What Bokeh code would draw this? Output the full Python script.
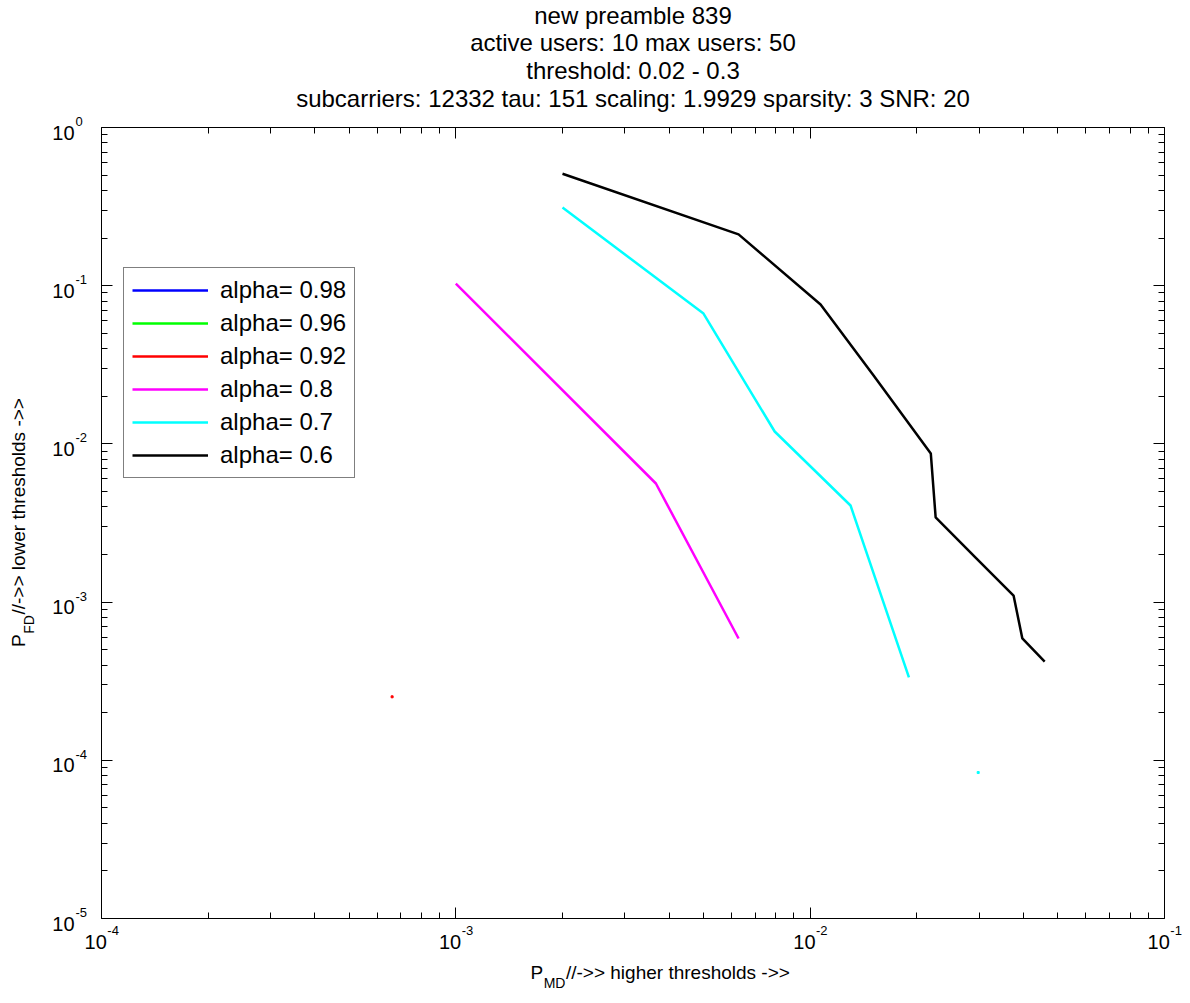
import math
import numpy as np
from bokeh.plotting import figure
from bokeh.models import Range1d, LogAxis, FixedTicker, Label, Legend, LegendItem
from bokeh.embed import file_html
from bokeh.resources import INLINE

# ---------------- data ----------------
title_lines = [
    "new preamble 839",
    "active users: 10 max users: 50",
    "threshold: 0.02 - 0.3",
    "subcarriers: 12332 tau: 151 scaling: 1.9929 sparsity: 3 SNR: 20",
]
series_labels = ["alpha= 0.98", "alpha= 0.96", "alpha= 0.92", "alpha= 0.8", "alpha= 0.7", "alpha= 0.6"]
series_colors = ["#0000ff", "#00ff00", "#ff0000", "#ff00ff", "#00ffff", "#000000"]

# P_MD (x) and P_FD (y) for each alpha (nan = nothing visible)
a098_x = [np.nan]
a098_y = [np.nan]
a096_x = [np.nan]
a096_y = [np.nan]
a092_x = [6.61e-4]
a092_y = [2.52e-4]
a08_x = [1.0e-3, 3.67e-3, 6.28e-3]
a08_y = [0.103, 5.62e-3, 5.89e-4]
a07_x = [2.0e-3, 5.0e-3, 7.94e-3, 1.30e-2, 1.90e-2]
a07_y = [0.312, 0.0667, 0.01198, 4.08e-3, 3.34e-4]
a07_extra_x = [2.98e-2]
a07_extra_y = [8.37e-5]
a06_x = [2.0e-3, 6.28e-3, 1.07e-2, 1.51e-2, 2.19e-2, 2.26e-2, 2.93e-2, 3.75e-2, 3.97e-2, 4.59e-2]
a06_y = [0.51, 0.211, 0.076, 0.0271, 8.7e-3, 3.43e-3, 1.91e-3, 1.10e-3, 5.89e-4, 4.21e-4]

x_decades = [-4, -3, -2, -1]
y_decades = [-5, -4, -3, -2, -1, 0]
x_label_parts = ["P", "MD", "//->> higher thresholds ->>"]
y_label_parts = ["P", "FD", "//->> lower thresholds ->>"]

series_x = [a098_x, a096_x, a092_x, a08_x, a07_x, a06_x]
series_y = [a098_y, a096_y, a092_y, a08_y, a07_y, a06_y]

# ---------------- layout ----------------
FONT = "Liberation Sans"
W, H = 1190, 1003
X0, X1, Y0, Y1 = 101, 1164, 127, 918     # axes box in canvas pixels
XLO, XHI, YLO, YHI = 1e-4, 1e-1, 1e-5, 1.0

dx = (X1 - X0) / (math.log10(XHI) - math.log10(XLO))
dy = (Y1 - Y0) / (math.log10(YHI) - math.log10(YLO))
x_start = 10 ** (math.log10(XLO) - X0 / dx)
x_end = 10 ** (math.log10(XHI) + (W - X1) / dx)
y_start = 10 ** (math.log10(YLO) - (H - Y1) / dy)
y_end = 10 ** (math.log10(YHI) + Y0 / dy)

_aw = {' ': 278, '/': 278, '-': 333, '>': 584, '.': 278, ':': 278, '=': 584,
       'P': 667, 'M': 833, 'D': 722, 'F': 611, 'S': 667, 'N': 722, 'R': 722,
       'a': 556, 'b': 556, 'c': 500, 'd': 556, 'e': 556, 'g': 556, 'h': 556,
       'i': 222, 'l': 222, 'm': 833, 'n': 556, 'o': 556, 'p': 556, 'r': 333,
       's': 500, 't': 278, 'u': 556, 'w': 722, 'x': 500, 'y': 500}


def tw(s, size):
    return sum(_aw.get(ch, 556) for ch in s) * size / 1000.0


p = figure(width=W, height=H, x_axis_type="log", y_axis_type="log",
           x_range=Range1d(x_start, x_end), y_range=Range1d(y_start, y_end),
           output_backend="svg", toolbar_location=None, min_border=0)
p.title.visible = False
p.background_fill_color = "white"
p.border_fill_color = "white"
p.outline_line_color = None
p.xgrid.visible = False
p.ygrid.visible = False

xt = [10.0 ** e for e in x_decades]
xm = [m * 10.0 ** e for e in x_decades[:-1] for m in range(2, 10)]
yt = [10.0 ** e for e in y_decades]
ym = [m * 10.0 ** e for e in y_decades[:-1] for m in range(2, 10)]


def style_axis(ax, ticks, minors, loc, bounds):
    ax.ticker = FixedTicker(ticks=ticks, minor_ticks=minors)
    ax.fixed_location = loc
    ax.bounds = bounds
    ax.major_tick_in = 11
    ax.major_tick_out = 0
    ax.minor_tick_in = 6
    ax.minor_tick_out = 0
    ax.major_label_text_color = None
    ax.major_label_text_font_size = "1px"
    ax.axis_line_color = "black"
    ax.axis_line_width = 1
    ax.major_tick_line_color = "black"
    ax.minor_tick_line_color = "black"


style_axis(p.xaxis[0], xt, xm, YLO, (XLO, XHI))
style_axis(p.yaxis[0], yt, ym, XLO, (YLO, YHI))
top_ax = LogAxis()
style_axis(top_ax, xt, xm, YHI, (XLO, XHI))
p.add_layout(top_ax, "above")
right_ax = LogAxis()
style_axis(right_ax, yt, ym, XHI, (YLO, YHI))
p.add_layout(right_ax, "right")

# ---------------- series ----------------
renderers = []
for xs, ys, col in zip(series_x, series_y, series_colors):
    r = p.line(np.array(xs, dtype=float), np.array(ys, dtype=float), line_color=col, line_width=2.5)
    renderers.append(r)
p.scatter(a092_x, a092_y, marker="square", size=2, color=series_colors[2])
p.scatter(a07_extra_x, a07_extra_y, marker="square", size=2, color=series_colors[4])

legend = Legend(items=[LegendItem(label=lab, renderers=[r]) for lab, r in zip(series_labels, renderers)])
legend.location = (123, H - 478)
legend.margin = 0
legend.padding = 8
legend.spacing = 5
legend.glyph_width = 76
legend.glyph_height = 28
legend.label_height = 28
legend.label_standoff = 12
legend.label_text_font = FONT
legend.label_text_font_size = "24px"
legend.label_text_color = "black"
legend.border_line_color = "black"
legend.border_line_width = 1
legend.background_fill_color = "white"
legend.background_fill_alpha = 1.0
p.add_layout(legend, "center")

# ---------------- texts (canvas pixel positions; screen y measured from bottom) ----------------
def add_label(text, x, y, size, align="left", baseline="middle", xu="screen", yu="screen",
              x_off=0, y_off=0, angle=0.0):
    p.add_layout(Label(text=text, x=x, y=y, x_units=xu, y_units=yu, x_offset=x_off, y_offset=y_off,
                       text_font=FONT, text_font_size=f"{size}px", text_color="black",
                       text_align=align, text_baseline=baseline, angle=angle))


CX = (X0 + X1) / 2
CY = (Y0 + Y1) / 2

# title
title_centers = [15, 42, 70, 98]
for line, cy in zip(title_lines, title_centers):
    add_label(line, CX, H - cy, 24, align="center")

# x tick labels
for e in x_decades:
    v = 10.0 ** e
    ex = str(e)
    w10 = tw("10", 20)
    wex = tw(ex, 13)
    off = -(w10 + wex) / 2 + w10
    add_label("10", v, H - 941, 20, align="right", xu="data", x_off=off)
    add_label(ex, v, H - 930, 13, align="left", xu="data", x_off=off + 0.5)

# y tick labels
for e in y_decades:
    v = 10.0 ** e
    add_label("10", 74, v, 20, align="right", yu="data", y_off=-5)
    add_label(str(e), 75, v, 13, align="left", yu="data", y_off=6)

# x axis label with subscript
LS, SS = 19, 14
wP = tw(x_label_parts[0], LS)
wS = tw(x_label_parts[1], SS)
wR = tw(x_label_parts[2], LS)
sx = 530
add_label(x_label_parts[0], sx, H - 972, LS)
add_label(x_label_parts[1], sx + wP + 0.5, H - 982, SS)
add_label(x_label_parts[2], sx + wP + wS + 1, H - 972, LS)

# y axis label with subscript (rotated, reading upwards)
wP = tw(y_label_parts[0], LS)
wS = tw(y_label_parts[1], SS)
wR = tw(y_label_parts[2], LS)
sy = (H - CY) - (wP + wS + wR) / 2
add_label(y_label_parts[0], 18, sy, LS, angle=math.pi / 2)
add_label(y_label_parts[1], 28, sy + wP + 0.5, SS, angle=math.pi / 2)
add_label(y_label_parts[2], 18, sy + wP + wS + 1, LS, angle=math.pi / 2)

open("out.html", "w").write(file_html(p, INLINE))
